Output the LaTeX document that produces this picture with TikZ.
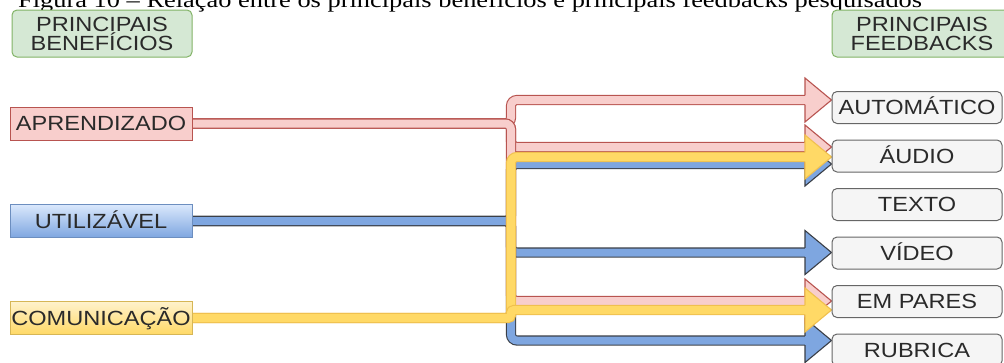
\documentclass[tikz,border=0pt]{standalone}
\usepackage{fontspec}
\usepackage{graphicx}
\setmainfont{Liberation Serif}
\newfontfamily\arialf{Liberation Sans}
\definecolor{RF}{HTML}{F8CECC}
\definecolor{RS}{HTML}{B85450}
\definecolor{BF}{HTML}{7EA6E0}
\definecolor{BS}{HTML}{3A3F47}
\definecolor{BT}{HTML}{DAE8FC}
\definecolor{BB}{HTML}{6C8EBF}
\definecolor{YF}{HTML}{FFD966}
\definecolor{YS}{HTML}{F0C04E}
\definecolor{YT}{HTML}{FFF2CC}
\definecolor{YB}{HTML}{D6B656}
\definecolor{GF}{HTML}{D5E8D4}
\definecolor{GS}{HTML}{82B366}
\definecolor{WF}{HTML}{F5F5F5}
\definecolor{WS}{HTML}{666666}
\definecolor{txt}{HTML}{2A2A2A}
\newcommand\st[1]{\scalebox{1.15}[1]{#1}}
\newcommand\flexto[5]{%
  \draw[line width=1.1pt, draw=#1S, double=#1F, double distance=8pt, rounded corners=6pt]
    (#2.east) -- (511,#3) -- (511,#4) -- (805,#4);
  \fill[#1F] (805,#4-4.55) -- (805,#4-22) -- (#5.west |- 0,#4) -- (805,#4+22) -- (805,#4+4.55) -- cycle;
  \draw[#1S, line width=1.1pt] (805,#4-4.55) -- (805,#4-22) -- (#5.west |- 0,#4) -- (805,#4+22) -- (805,#4+4.55);
}
\pgfdeclarelayer{bg}
\pgfsetlayers{bg,main}
\begin{document}
\begin{tikzpicture}[x=1pt,y=-1pt,
  lbl/.style={font=\arialf\fontsize{20.5}{20}\selectfont, text=txt, inner sep=0pt, text height=14.5pt, text depth=0pt},
  lbox/.style={lbl, line width=1pt, minimum width=182pt, minimum height=33pt},
  gbox/.style={lbl, draw=GS, fill=GF, line width=1pt, rounded corners=5pt, minimum width=180pt, minimum height=47pt, align=center, text height=, text depth=},
  wbox/.style={lbl, draw=WS, fill=WF, line width=1pt, rounded corners=5pt, minimum width=170pt, minimum height=32pt}]
\useasboundingbox (0,0) rectangle (1004,362);

\node[anchor=base west, inner sep=0pt, font=\fontsize{22}{22}\selectfont] (cap) at (18,7)
  {\scalebox{1.2}[1]{Figura 10 – Relação entre os principais benefícios e principais feedbacks pesquisados}};

\node[gbox] (gl) at (102,33.5) {\st{PRINCIPAIS}\\[-1pt]\st{BENEFÍCIOS}};
\node[gbox] (gr) at (922,33.5) {\st{PRINCIPAIS}\\[-1pt]\st{FEEDBACKS}};

\node[lbox, draw=RS, fill=RF] (apr) at (101,123.5) {\st{APRENDIZADO}};
\node[lbox, draw=BB, top color=BT, bottom color=BF] (uti) at (101,221) {\st{UTILIZÁVEL}};
\node[lbox, draw=YB, top color=YT, bottom color=YF] (com) at (101,318) {\st{COMUNICAÇÃO}};

\node[wbox] (aut) at (917,107.5) {\st{AUTOMÁTICO}};
\node[wbox] (aud) at (917,156) {\st{ÁUDIO}};
\node[wbox] (tex) at (917,204.5) {\st{TEXTO}};
\node[wbox] (vid) at (917,253) {\st{VÍDEO}};
\node[wbox] (emp) at (917,301.5) {\st{EM PARES}};
\node[wbox] (rub) at (917,350) {\st{RUBRICA}};

\begin{pgfonlayer}{bg}
\flexto{B}{uti}{221}{164}{aud}
\flexto{B}{uti}{221}{252.5}{vid}
\flexto{B}{uti}{221}{340.5}{rub}
\flexto{R}{apr}{123.5}{100}{aut}
\flexto{R}{apr}{123.5}{147}{aud}
\flexto{R}{apr}{123.5}{301}{emp}
\flexto{Y}{com}{318}{157}{aud}
% short jog to EM PARES
\draw[line width=1.1pt, draw=YS, double=YF, double distance=8pt, rounded corners=3pt]
  (com.east) -- (511,318) -- (511,310) -- (805,310);
\fill[YF] (805,310-4.55) -- (805,310-22) -- (emp.west |- 0,310) -- (805,310+22) -- (805,310+4.55) -- cycle;
\draw[YS, line width=1.1pt] (805,310-4.55) -- (805,310-22) -- (emp.west |- 0,310) -- (805,310+22) -- (805,310+4.55);
\end{pgfonlayer}
\end{tikzpicture}
\end{document}
